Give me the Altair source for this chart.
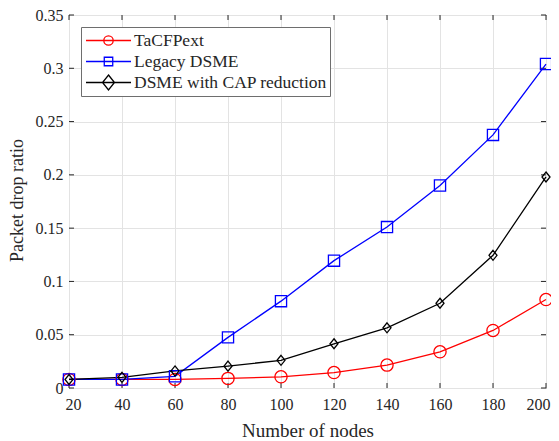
import altair as alt
import pandas as pd

nodes = [20, 40, 60, 80, 100, 120, 140, 160, 180, 200]
tacfpext = [0.008, 0.008, 0.008, 0.009, 0.0105, 0.0145, 0.0215, 0.034, 0.054, 0.083]
legacy = [0.008, 0.008, 0.011, 0.0475, 0.0815, 0.1195, 0.151, 0.19, 0.2375, 0.304]
cap = [0.008, 0.010, 0.016, 0.0205, 0.026, 0.0415, 0.0565, 0.0795, 0.1245, 0.198]

series_names = ["TaCFPext", "Legacy DSME", "DSME with CAP reduction"]
series_values = [tacfpext, legacy, cap]
colors = ["#ff0000", "#0000ff", "#000000"]

x_ticks = [20, 40, 60, 80, 100, 120, 140, 160, 180, 200]
y_ticks = [0, 0.05, 0.1, 0.15, 0.2, 0.25, 0.3, 0.35]

W, H = 477, 373
FONT = "Liberation Serif"
AX = "#262626"

rows = []
for name, vals in zip(series_names, series_values):
    for n, v in zip(nodes, vals):
        rows.append({"nodes": n, "value": v, "series": name})
df = pd.DataFrame(rows)
xt = pd.DataFrame({"nodes": x_ticks})
yt = pd.DataFrame({"value": y_ticks})

xs = alt.Scale(domain=[20, 200], nice=False, zero=False)
ys = alt.Scale(domain=[0, 0.35], nice=False)
xaxis = alt.Axis(values=x_ticks, grid=True, gridColor="#e3e3e3", ticks=False, domain=False,
                 labelFlush=True, labelFlushOffset=4,
                 labelFont=FONT, labelFontSize=16, labelColor=AX, labelPadding=8,
                 title="Number of nodes", titleFont=FONT, titleFontSize=19, titleFontWeight="normal",
                 titleColor=AX, titleX=W / 2, titleY=48, titleBaseline="alphabetic", titleAlign="center")
yaxis = alt.Axis(values=y_ticks, grid=True, gridColor="#e3e3e3", ticks=False, domain=False, format="~g",
                 labelFlush=False,
                 labelFont=FONT, labelFontSize=16, labelColor=AX, labelPadding=6,
                 title="Packet drop ratio", titleFont=FONT, titleFontSize=18, titleFontWeight="normal",
                 titleColor=AX, titleX=-51.5, titleY=185, titleBaseline="middle", titleAlign="center",
                 titleAngle=270)

X = alt.X("nodes:Q", scale=xs, axis=xaxis)
Y = alt.Y("value:Q", scale=ys, axis=yaxis)

cscale = alt.Scale(domain=series_names, range=colors)
plot_shapes = ["circle", "square", "M0,-1L0.8,0L0,1L-0.8,0Z"]
plot_sizes = [150, 100, 225]

lines = alt.Chart(df).mark_line(strokeWidth=1.3).encode(
    x=X, y=Y, color=alt.Color("series:N", scale=cscale, legend=None), detail="series:N")

points = alt.Chart(df).mark_point(filled=False, strokeWidth=1.3, opacity=1).encode(
    x=X, y=Y,
    color=alt.Color("series:N", scale=cscale, legend=None),
    shape=alt.Shape("series:N", scale=alt.Scale(domain=series_names, range=plot_shapes), legend=None),
    size=alt.Size("series:N", scale=alt.Scale(domain=series_names, range=plot_sizes), legend=None))

legend_paths = [
    "M-0.957,0L0.957,0M-0.2,0A0.2,0.2 0 1,0 0.2,0A0.2,0.2 0 1,0 -0.2,0",
    "M-0.957,0L0.957,0M-0.18,-0.18L0.18,-0.18L0.18,0.18L-0.18,0.18Z",
    "M-0.957,0L0.957,0M0,-0.32L0.255,0L0,0.32L-0.255,0Z",
]
leg = dict(title=None, orient="none", legendX=12, legendY=12, direction="vertical",
           fillColor="white", strokeColor="#6e6e6e", padding=3, clipHeight=21, rowPadding=0,
           symbolSize=2209, symbolStrokeWidth=1.3, symbolFillColor="transparent",
           labelFont=FONT, labelFontSize=17.5, labelColor=AX, labelOffset=1, labelLimit=400)
legend_layer = alt.Chart(df).transform_filter("false").mark_point(
    filled=False, strokeWidth=1.3, size=2209, opacity=1).encode(
    x=X, y=Y,
    color=alt.Color("series:N", scale=alt.Scale(domain=series_names, range=colors), legend=alt.Legend(**leg)),
    shape=alt.Shape("series:N", scale=alt.Scale(domain=series_names, range=legend_paths), legend=alt.Legend(**leg)))

tk = dict(color=AX, strokeWidth=1)
tb = alt.Chart(xt).mark_rule(**tk).encode(x=X, y=alt.value(H), y2=alt.value(H - 5))
tt = alt.Chart(xt).mark_rule(**tk).encode(x=X, y=alt.value(0), y2=alt.value(5))
tl = alt.Chart(yt).mark_rule(**tk).encode(y=Y, x=alt.value(0), x2=alt.value(5))
tr = alt.Chart(yt).mark_rule(**tk).encode(y=Y, x=alt.value(W), x2=alt.value(W - 5))

chart = alt.layer(tb, tt, tl, tr, lines, points, legend_layer).resolve_scale(
    color="independent", shape="independent", size="independent"
).properties(
    width=W, height=H,
    autosize=alt.AutoSizeParams(type="none"),
    padding={"left": 61, "top": 7, "right": 5, "bottom": 53},
    background="white",
).configure_view(stroke=AX, strokeWidth=1)

chart.save("out.html", embed_options={"renderer": "svg", "actions": False})
